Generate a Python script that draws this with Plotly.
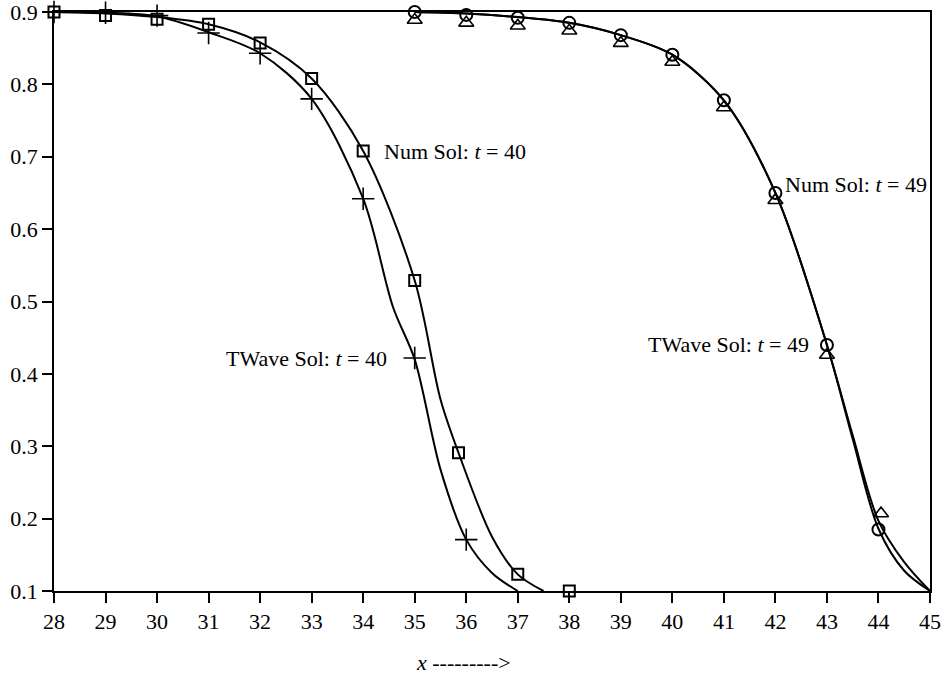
import plotly.graph_objects as go

# ---- data ----
x_num40 = [28, 29, 30, 31, 32, 33, 34, 35, 35.85, 37, 38]
y_num40 = [0.900, 0.895, 0.890, 0.883, 0.857, 0.808, 0.708, 0.529, 0.291, 0.123, 0.100]

x_tw40 = [28, 29, 30, 31, 32, 33, 34, 35, 36]
y_tw40 = [0.900, 0.899, 0.895, 0.871, 0.843, 0.780, 0.642, 0.422, 0.171]

x_num49 = [35, 36, 37, 38, 39, 40, 41, 42, 43, 44]
y_num49 = [0.900, 0.896, 0.892, 0.885, 0.868, 0.841, 0.778, 0.650, 0.440, 0.185]

x_tw49 = [35, 36, 37, 38, 39, 40, 41, 42, 43, 44.05]
y_tw49 = [0.889, 0.885, 0.881, 0.874, 0.857, 0.831, 0.768, 0.640, 0.426, 0.207]

# solution curves
cx_num40 = [28, 29, 30, 31, 32, 33, 34, 35, 35.5, 35.85, 36.5, 37, 37.5]
cy_num40 = [0.900, 0.898, 0.893, 0.883, 0.858, 0.808, 0.708, 0.529, 0.365, 0.291, 0.175, 0.123, 0.100]

cx_tw40 = [28, 29, 30, 31, 32, 33, 34, 34.58, 35, 35.5, 36, 36.5, 37]
cy_tw40 = [0.900, 0.899, 0.894, 0.872, 0.843, 0.780, 0.642, 0.492, 0.420, 0.268, 0.171, 0.125, 0.100]

cx_num49 = [35, 36, 37, 38, 39, 40, 41, 42, 43, 43.5, 44, 44.5, 45]
cy_num49 = [0.900, 0.898, 0.893, 0.885, 0.868, 0.841, 0.778, 0.650, 0.440, 0.310, 0.186, 0.128, 0.100]

cx_tw49 = [35, 36, 37, 38, 39, 40, 41, 42, 43, 43.5, 44, 44.5, 45]
cy_tw49 = [0.900, 0.898, 0.893, 0.885, 0.868, 0.841, 0.778, 0.650, 0.440, 0.315, 0.197, 0.140, 0.100]

x_ticks = list(range(28, 46))
y_ticks = [0.1, 0.2, 0.3, 0.4, 0.5, 0.6, 0.7, 0.8, 0.9]
y_tick_text = ["0.1", "0.2", "0.3", "0.4", "0.5", "0.6", "0.7", "0.8", "0.9"]

FONT = "Liberation Serif"

fig = go.Figure()

for cx, cy in [(cx_num40, cy_num40), (cx_tw40, cy_tw40), (cx_num49, cy_num49), (cx_tw49, cy_tw49)]:
    fig.add_trace(go.Scatter(x=cx, y=cy, mode="lines",
                             line=dict(color="black", width=2, shape="spline", smoothing=0.9),
                             showlegend=False, hoverinfo="skip"))

fig.add_trace(go.Scatter(x=x_num40, y=y_num40, mode="markers", cliponaxis=False,
                         marker=dict(symbol="square-open", size=11, color="black", line=dict(width=2)),
                         showlegend=False))
fig.add_trace(go.Scatter(x=x_tw40, y=y_tw40, mode="markers", cliponaxis=False,
                         marker=dict(symbol="cross-thin", size=16, color="black", line=dict(width=1.6, color="black")),
                         showlegend=False))
fig.add_trace(go.Scatter(x=x_tw49, y=y_tw49, mode="markers", cliponaxis=False,
                         marker=dict(symbol="triangle-up-open", size=13, color="black", line=dict(width=1.6)),
                         showlegend=False))
fig.add_trace(go.Scatter(x=x_num49, y=y_num49, mode="markers", cliponaxis=False,
                         marker=dict(symbol="circle-open", size=12, color="black", line=dict(width=2)),
                         showlegend=False))

annots = [
    (34.36, 0.707, "Num Sol: <i>t</i> = 40"),
    (31.30, 0.421, "TWave Sol: <i>t</i> = 40"),
    (42.14, 0.661, "Num Sol: <i>t</i> = 49"),
    (39.48, 0.440, "TWave Sol: <i>t</i> = 49"),
]
for ax_, ay_, txt in annots:
    fig.add_annotation(x=ax_, y=ay_, xref="x", yref="y", text=txt, showarrow=False,
                       xanchor="left", yanchor="middle",
                       font=dict(family=FONT, size=22, color="black"))

fig.add_annotation(x=0.467, y=-0.124, xref="paper", yref="paper",
                   text="<i>x</i> --------->", showarrow=False,
                   xanchor="center", yanchor="middle",
                   font=dict(family=FONT, size=22, color="black"))

axis_common = dict(showgrid=False, zeroline=False, showline=True, linecolor="black",
                   linewidth=1.5, mirror=True, ticks="outside", ticklen=10, tickwidth=1.5,
                   automargin=False, ticklabeloverflow="allow",
                   tickcolor="black", tickfont=dict(family=FONT, size=22, color="black"))

fig.update_xaxes(range=[28, 45], tickmode="array", tickvals=x_ticks,
                 ticktext=[str(v) for v in x_ticks], **axis_common)
fig.update_yaxes(range=[0.1, 0.9], tickmode="array", tickvals=y_ticks,
                 ticktext=y_tick_text, **axis_common)

fig.update_layout(width=947, height=675,
                  margin=dict(l=54, r=17, t=12, b=84, autoexpand=False),
                  plot_bgcolor="white", paper_bgcolor="white", showlegend=False)

fig.write_html("out.html", config={"displayModeBar": False},
               post_script="document.body.style.margin='0';document.body.style.overflow='hidden';")
